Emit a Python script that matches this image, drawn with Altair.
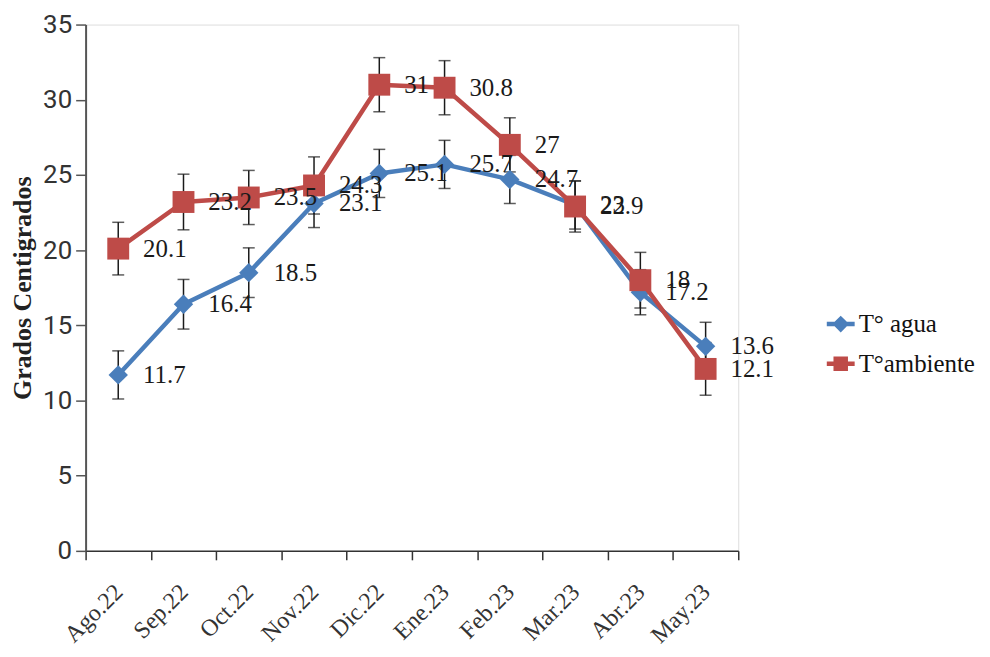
import altair as alt
import pandas as pd

months = ["Ago.22", "Sep.22", "Oct.22", "Nov.22", "Dic.22",
          "Ene.23", "Feb.23", "Mar.23", "Abr.23", "May.23"]
series_names = ["T° agua", "T°ambiente"]
agua = [11.7, 16.4, 18.5, 23.1, 25.1, 25.7, 24.7, 23, 17.2, 13.6]
ambiente = [20.1, 23.2, 23.5, 24.3, 31, 30.8, 27, 22.9, 18, 12.1]
agua_err = [1.6, 1.65, 1.65, 1.6, 1.6, 1.6, 1.6, 1.6, 1.5, 1.6]
ambiente_err = [1.75, 1.85, 1.8, 1.9, 1.8, 1.8, 1.8, 1.7, 1.85, 1.75]
y_ticks = [0, 5, 10, 15, 20, 25, 30, 35]

BLUE = "#4A7EBB"
RED = "#BE4B48"

rows = []
for name, vals, errs in [(series_names[0], agua, agua_err),
                         (series_names[1], ambiente, ambiente_err)]:
    for m, v, e in zip(months, vals, errs):
        rows.append({"month": m, "series": name, "value": v,
                     "lo": v - e, "hi": v + e, "label": f"{v:g}"})
df = pd.DataFrame(rows)

x_enc = alt.X("month:N", sort=months,
              scale=alt.Scale(type="band", paddingInner=0, paddingOuter=0),
              axis=alt.Axis(labelAngle=-45, labelAlign="right", labelBaseline="top",
                            labelPadding=20, labelOffset=-8, tickSize=9,
                            tickBand="extent",
                            tickColor="#333", domainColor="#333", domainWidth=1.5,
                            tickWidth=1.5, labelFont="Liberation Serif",
                            labelFontSize=24, labelColor="#333", title=None,
                            grid=False))

y_scale = alt.Scale(domain=[0, 35], nice=False, zero=True)
y_axis = alt.Axis(values=y_ticks, grid=False, tickSize=10, tickColor="#555",
                  tickWidth=1.5, domainColor="#555", domainWidth=2,
                  labelFont="Roboto", labelFontSize=26, labelColor="#333",
                  labelPadding=4, titleFont="Liberation Serif",
                  titleFontWeight="bold", titleFontSize=26, titleColor="#222",
                  titlePadding=7)
TITLE = "Grados Centigrados"


def Y(field):
    return alt.Y(field, scale=y_scale, axis=y_axis, title=TITLE)


base = alt.Chart(df)

err_rule = base.mark_rule(color="#1a1a1a", strokeWidth=1.5).encode(
    x=x_enc, y=Y("lo:Q"), y2="hi:Q")
cap_lo = base.mark_tick(color="#1a1a1a", thickness=1.5, size=12).encode(
    x=x_enc, y=Y("lo:Q"))
cap_hi = base.mark_tick(color="#1a1a1a", thickness=1.5, size=12).encode(
    x=x_enc, y=Y("hi:Q"))


def series_layers(name, color, shape, size):
    flt = alt.datum.series == name
    line = base.mark_line(color=color, strokeWidth=4.5, strokeJoin="round",
                          strokeCap="round").encode(
        x=x_enc, y=Y("value:Q")).transform_filter(flt)
    pts = base.mark_point(shape=shape, filled=True, size=size, color=color,
                          opacity=1).encode(
        x=x_enc, y=Y("value:Q")).transform_filter(flt)
    return [line, pts]


labels = base.mark_text(align="left", baseline="middle", dx=25,
                        font="Liberation Serif", fontSize=25,
                        color="#1a1a1a").encode(
    x=x_enc, y=Y("value:Q"), text="label:N")

diamond_bar = ("M-1,-0.16 L-0.44,-0.16 L0,-0.6 L0.44,-0.16 L1,-0.16 L1,0.16 "
               "L0.44,0.16 L0,0.6 L-0.44,0.16 L-1,0.16 Z")
square_bar = ("M-1,-0.16 L-0.52,-0.16 L-0.52,-0.52 L0.52,-0.52 L0.52,-0.16 "
              "L1,-0.16 L1,0.16 L0.52,0.16 L0.52,0.52 L-0.52,0.52 L-0.52,0.16 "
              "L-1,0.16 Z")

leg = alt.Legend(orient="none", legendX=745, legendY=287, labelFont="Liberation Serif",
                 labelFontSize=25, labelColor="#111", symbolSize=784,
                 symbolStrokeWidth=0, labelOffset=4, rowPadding=13)

legend_layer = base.mark_point(filled=True, opacity=1).encode(
    x=x_enc, y=Y("value:Q"),
    color=alt.Color("series:N", scale=alt.Scale(domain=series_names, range=[BLUE, RED]),
                    legend=leg, title=None),
    shape=alt.Shape("series:N", scale=alt.Scale(domain=series_names,
                                                range=[diamond_bar, square_bar]),
                    legend=leg, title=None),
).transform_filter(alt.datum.value < -100)

layers = [err_rule, cap_lo, cap_hi]
layers += series_layers(series_names[0], BLUE, "diamond", 380)
layers += series_layers(series_names[1], RED, "square", 484)
layers += [labels, legend_layer]

chart = alt.layer(*layers).properties(
    width=656, height=529,
    autosize=alt.AutoSizeParams(type="none"),
    padding={"left": 78, "top": 15, "right": 245, "bottom": 97},
).configure_view(stroke="#a8a8a8", strokeWidth=1).configure(background="white")

chart.save("out.html", embed_options={"renderer": "svg", "actions": False})
